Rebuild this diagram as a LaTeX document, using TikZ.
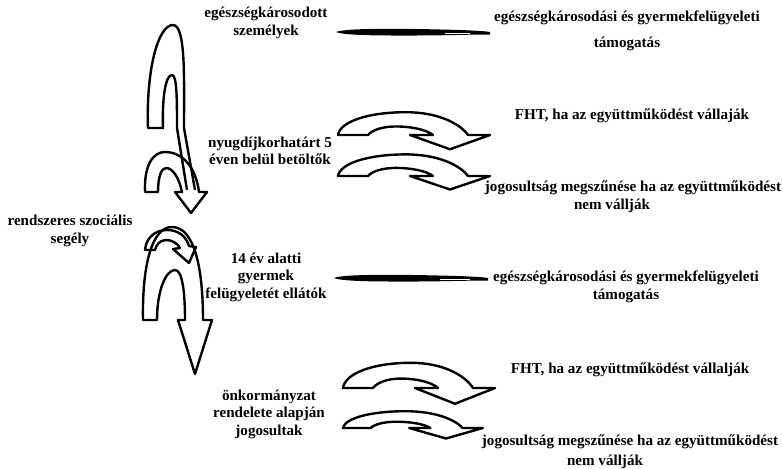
\documentclass[tikz,border=0pt]{standalone}
\usepackage{fontspec}
\setmainfont{Liberation Serif}
\begin{document}
\begin{tikzpicture}[x=1pt,y=-1pt,
  lbl/.style={font=\bfseries\fontsize{15.1}{17.5}\selectfont, align=center, inner sep=0pt},
  outl/.style={draw=black, line width=2.4pt, line join=round},
  curvarr/.pic={
    \draw[outl] (0,0) .. controls (2,-14) and (30,-24) .. (68,-24)
      .. controls (100,-24) and (122,-12) .. (130,0) -- (152,0) -- (112,15) -- (72,0) -- (95,0)
      .. controls (88,-6) and (72,-9) .. (58,-9) .. controls (44,-9) and (34,-5) .. (30,0) -- cycle;
  }]
\useasboundingbox (0,0) rectangle (783,468);

% ---- texts
\node[lbl] (t1) at (266,23) {egészségkárosodott\\személyek};
\node[lbl] (t2) at (627,31) {egészségkárosodási és gyermekfelügyeleti\\[9pt]támogatás};
\node[lbl] (t3) at (632,116) {FHT, ha az együttműködést vállaják};
\node[lbl] (t4) at (270,151) {nyugdíjkorhatárt 5\\éven belül betöltők};
\node[lbl] (t5) at (633,197) {jogosultság megszűnése ha az együttműködést\\\hspace*{-42pt}nem vállják};
\node[lbl] (t6) at (70,231) {rendszeres szociális\\segély};
\node[lbl] (t7) at (266,277) {14 év alatti\\gyermek\\felügyeletét ellátók};
\node[lbl] (t8) at (626,287) {egészségkárosodási és gyermekfelügyeleti\\támogatás};
\node[lbl] (t9) at (630,370) {FHT, ha az együttműködést vállalják};
\node[lbl] (t10) at (630,452) {jogosultság megszűnése ha az együttműködést\\[3pt]\hspace*{-50pt}nem vállják};
\node[lbl] (t11) at (269,414) {önkormányzat\\rendelete alapján\\jogosultak};

% ---- vertical arches
% top arch with long shaft
\draw[outl] (195,190) -- (184,128) .. controls (184,80) and (186,25) .. (173,25)
  .. controls (158,25) and (146,70) .. (148,128) -- (163,128)
  .. controls (162,95) and (166,75) .. (172,75) .. controls (177,75) and (177,100) .. (177,128) -- (187,190);
% small arch with head
\draw[outl] (145,192) .. controls (144,165) and (153,152) .. (165,152)
  .. controls (183,152) and (196,168) .. (199,192) -- (207,192) -- (191,213) -- (175,192) -- (182,192)
  .. controls (179,178) and (173,168) .. (166,168) .. controls (161,168) and (158,178) .. (158,192) -- cycle;
% big lower arch with head
\draw[outl] (143,320) .. controls (142,265) and (152,227) .. (172,227)
  .. controls (195,227) and (203,270) .. (203,320) -- (212,320) -- (195,374) -- (178,320) -- (185,320)
  .. controls (185,290) and (182,270) .. (175,270) .. controls (166,270) and (157,290) .. (157,320) -- cycle;
% small curl inside
\draw[outl] (145,250) .. controls (146,238) and (155,230) .. (167,230)
  .. controls (178,230) and (186,236) .. (189,246) -- (196,247) -- (189,263) -- (173,249) -- (180,248)
  .. controls (177,243) and (172,240) .. (166,240) .. controls (160,240) and (156,245) .. (155,250) -- cycle;

% ---- flattened strokes
\fill (336,32) .. controls (345,28) and (400,28.5) .. (440,29.5) .. controls (465,30) and (485,31) .. (490,32)
  -- (490,34.5) .. controls (470,34.5) and (440,35.5) .. (420,35.5) .. controls (390,35.5) and (345,36) .. (336,32) -- cycle;
\draw[white, line width=0.8pt] (445,33) -- (470,33);
\fill (334,278) .. controls (343,274) and (398,274.5) .. (438,275.5) .. controls (463,276) and (483,277) .. (488,278)
  -- (488,280.5) .. controls (468,280.5) and (438,281.5) .. (418,281.5) .. controls (388,281.5) and (343,282) .. (334,278) -- cycle;
\draw[white, line width=0.8pt] (440,279) -- (470,279);

% ---- curved arrows
\pic[yscale=0.95] at (338,135) {curvarr};
\pic[yscale=0.9] at (338,176) {curvarr};
\pic[yscale=1.05] at (343,388) {curvarr};
\pic[yscale=0.7, xscale=0.92] at (343,428) {curvarr};
\end{tikzpicture}
\end{document}
